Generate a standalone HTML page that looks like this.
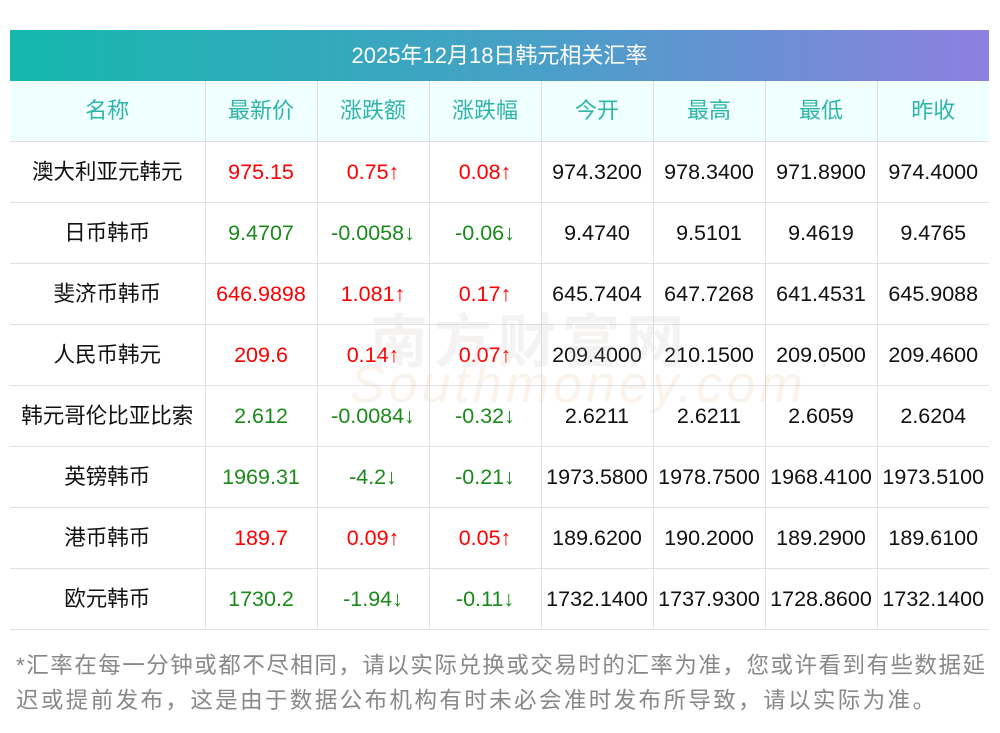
<!DOCTYPE html>
<html><head><meta charset="utf-8"><style>
body{margin:0;width:1000px;height:733px;background:#fff;font-family:"Liberation Sans","Noto Sans CJK SC",sans-serif;position:relative;overflow:hidden}
.title{position:absolute;left:10px;top:30px;width:979px;height:51px;background:linear-gradient(90deg,#14b8ad,#4a9fc8 55%,#8e7fe0);color:#fff;font-size:22px;text-align:center;line-height:51px}
table{position:absolute;left:10px;top:81px;border-collapse:collapse;table-layout:fixed;width:979px}
td{border:1px solid #dfe0e8;text-align:center;font-size:21.5px;height:60px;line-height:24px;padding:0;white-space:nowrap;color:#111;overflow:visible}
tr td:first-child{border-left:none}
tr td:last-child{border-right:none}
tr:first-child td{border-top:none;background:#f0ffff;color:#2fb5a8;font-size:22px}
.r{color:#f00}.g{color:#1a8a1a}
.foot{position:absolute;left:16px;top:648px;font-size:22.5px;color:#888;line-height:35px;white-space:nowrap}
.foot div{text-align:justify;text-align-last:justify}
.wm{position:absolute;left:370px;top:295px;font-size:58px;color:rgba(200,190,180,.18);letter-spacing:6px;font-weight:bold}
.wm2{position:absolute;left:350px;top:355px;font-size:52px;color:rgba(230,190,150,.18);font-style:italic;letter-spacing:4px}
</style></head><body>
<div class="title">2025年12月18日韩元相关汇率</div>
<table>
<colgroup><col style="width:195px"><col style="width:112px"><col style="width:112px"><col style="width:112px"><col style="width:112px"><col style="width:112px"><col style="width:112px"><col style="width:112px"></colgroup>
<tr><td>名称</td><td>最新价</td><td>涨跌额</td><td>涨跌幅</td><td>今开</td><td>最高</td><td>最低</td><td>昨收</td></tr>
<tr><td>澳大利亚元韩元</td><td class="r">975.15</td><td class="r">0.75↑</td><td class="r">0.08↑</td><td>974.3200</td><td>978.3400</td><td>971.8900</td><td>974.4000</td></tr>
<tr><td>日币韩币</td><td class="g">9.4707</td><td class="g">-0.0058↓</td><td class="g">-0.06↓</td><td>9.4740</td><td>9.5101</td><td>9.4619</td><td>9.4765</td></tr>
<tr><td>斐济币韩币</td><td class="r">646.9898</td><td class="r">1.081↑</td><td class="r">0.17↑</td><td>645.7404</td><td>647.7268</td><td>641.4531</td><td>645.9088</td></tr>
<tr><td>人民币韩元</td><td class="r">209.6</td><td class="r">0.14↑</td><td class="r">0.07↑</td><td>209.4000</td><td>210.1500</td><td>209.0500</td><td>209.4600</td></tr>
<tr><td>韩元哥伦比亚比索</td><td class="g">2.612</td><td class="g">-0.0084↓</td><td class="g">-0.32↓</td><td>2.6211</td><td>2.6211</td><td>2.6059</td><td>2.6204</td></tr>
<tr><td>英镑韩币</td><td class="g">1969.31</td><td class="g">-4.2↓</td><td class="g">-0.21↓</td><td>1973.5800</td><td>1978.7500</td><td>1968.4100</td><td>1973.5100</td></tr>
<tr><td>港币韩币</td><td class="r">189.7</td><td class="r">0.09↑</td><td class="r">0.05↑</td><td>189.6200</td><td>190.2000</td><td>189.2900</td><td>189.6100</td></tr>
<tr><td>欧元韩币</td><td class="g">1730.2</td><td class="g">-1.94↓</td><td class="g">-0.11↓</td><td>1732.1400</td><td>1737.9300</td><td>1728.8600</td><td>1732.1400</td></tr>
</table>
<div class="wm">南方财富网</div>
<div class="wm2">Southmoney.com</div>
<div class="foot"><div style="width:969px">*汇率在每一分钟或都不尽相同，请以实际兑换或交易时的汇率为准，您或许看到有些数据延</div><div style="width:919px">迟或提前发布，这是由于数据公布机构有时未必会准时发布所导致，请以实际为准。</div></div>
</body></html>
